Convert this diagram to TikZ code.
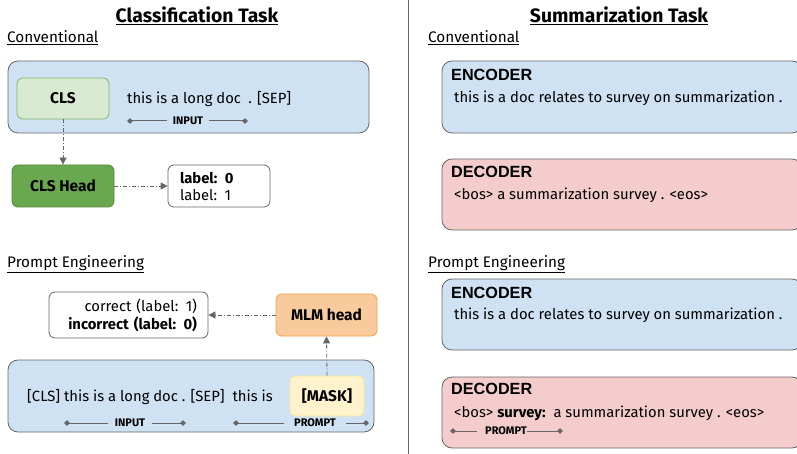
\documentclass[tikz,border=0pt]{standalone}
\usepackage{fontspec}
\setmainfont{Fira Sans}[Numbers=Proportional]
\newfontfamily\arialf{Liberation Sans}
\usetikzlibrary{arrows.meta}
\definecolor{blueF}{HTML}{CFE2F3}
\definecolor{pinkF}{HTML}{F4CCCC}
\definecolor{greenL}{HTML}{D9EAD3}
\definecolor{greenLB}{HTML}{82B366}
\definecolor{greenD}{HTML}{6AA84F}
\definecolor{greenDB}{HTML}{4E8A36}
\definecolor{orangeF}{HTML}{F9CB9C}
\definecolor{orangeB}{HTML}{F0A04B}
\definecolor{yellowF}{HTML}{FFF2CC}
\definecolor{yellowB}{HTML}{FFE599}
\definecolor{edge}{HTML}{666666}
\begin{document}
\begin{tikzpicture}[x=1pt,y=-1pt,
  panel/.style={draw=edge, line width=0.8pt, rounded corners=10pt, inner sep=0pt},
  smallbox/.style={draw, line width=0.8pt, rounded corners=6pt, inner sep=0pt, font=\fontsize{15.5}{17}\selectfont\bfseries},
  conn/.style={draw=edge, line width=0.8pt, dash pattern=on 4pt off 2pt on 1pt off 2pt, -{Triangle[length=7pt,width=7pt]}},
  brk/.style={draw=edge, line width=1pt},
  tip/.style={{Diamond[length=6pt,width=5.5pt]}-},
  tag/.style={font=\fontsize{11}{12}\selectfont\bfseries, inner sep=0pt, fill=none},
  body/.style={font=\fontsize{14.8}{17}\selectfont, inner sep=0pt},
  head/.style={font=\fontsize{19.4}{21}\selectfont\bfseries, inner sep=0pt},
  sub/.style={font=\fontsize{15.3}{17}\selectfont, inner sep=0pt, anchor=west},
  enc/.style={font=\arialf\fontsize{16.2}{18}\selectfont\bfseries, inner sep=0pt, anchor=west}]
\useasboundingbox (0,0) rectangle (797,454);
% divider
\draw[edge, line width=0.8pt] (408,0) -- (408,454);
% ===== Classification =====
\node[head] (t1) at (197,16) {\underline{Classification Task}};
\node[sub] (c1) at (7,38) {\underline{Conventional}};
\node[panel, fill=blueF, minimum width=361, minimum height=72] (p1) at (188.5,97) {};
\node[smallbox, draw=greenLB, fill=greenL, minimum width=92, minimum height=41] (cls) at (63,98.5) {CLS};
\node[body, anchor=west] (doc1) at (127,99) {this is a long doc\enspace. [SEP]};
\node[tag] (in1) at (188,121) {INPUT};
\coordinate (in1a) at (127,121);
\coordinate (in1b) at (248,121);
\draw[brk, tip] (in1a) -- ([xshift=-6pt]in1.west);
\draw[brk, tip] (in1b) -- ([xshift=6pt]in1.east);
\node[smallbox, draw=greenDB, fill=greenD, minimum width=102, minimum height=42] (clshead) at (63,186) {CLS Head};
\node[draw=edge, line width=0.8pt, rounded corners=6pt, fill=white, minimum width=102, minimum height=42, inner sep=0pt] (lab) at (219,186) {};
\node[body, align=left, text width=80, font=\fontsize{14.8}{17}\selectfont] (labt) at (220,186) {\textbf{label: 0}\\label: 1};
\draw[conn] (cls.south) -- (clshead.north);
\draw[conn] (clshead.east) -- (lab.west);
% prompt engineering
\node[sub] (pe1) at (7,264) {\underline{Prompt Engineering}};
\node[draw=edge, line width=0.8pt, rounded corners=6pt, fill=white, minimum width=159, minimum height=46, inner sep=0pt] (out) at (128.5,315) {};
\node[body, align=right, text width=150, font=\fontsize{14.8}{18}\selectfont] (outt) at (122,315) {correct (label: 1)\\\textbf{incorrect (label: 0)}};
\node[smallbox, draw=orangeB, fill=orangeF, minimum width=101, minimum height=42] (mlm) at (326.5,315) {MLM head};
\node[panel, fill=blueF, minimum width=366, minimum height=72] (p2) at (191,396) {};
\node[smallbox, draw=yellowB, fill=yellowF, minimum width=74, minimum height=40] (mask) at (327,396) {[MASK]};
\node[body, anchor=west] (doc2) at (27,397) {[CLS] this is a long doc . [SEP]\ \ this is};
\draw[conn] (mlm.west) -- (out.east);
\draw[conn] (mask.north) -- (mlm.south);
\node[tag] (in2) at (130,423) {INPUT};
\coordinate (in2a) at (64,423);
\coordinate (in2b) at (186,423);
\draw[brk, tip] (in2a) -- ([xshift=-7pt]in2.west);
\draw[brk, tip] (in2b) -- ([xshift=7pt]in2.east);
\node[tag] (pr1) at (315,423) {PROMPT};
\coordinate (pr1a) at (233,423);
\coordinate (pr1b) at (369,423);
\draw[brk, tip] (pr1a) -- ([xshift=-10pt]pr1.west);
\draw[brk, tip] (pr1b) -- ([xshift=10pt]pr1.east);
% ===== Summarization =====
\node[head] (t2) at (619,16) {\underline{Summarization Task}};
\node[sub] (c2) at (428,38) {\underline{Conventional}};
\node[panel, fill=blueF, minimum width=360, minimum height=72] (e1) at (622,97) {};
\node[enc] (e1h) at (451,75) {ENCODER};
\node[body, anchor=west] (e1t) at (454,98) {this is a doc relates to survey on summarization .};
\node[panel, fill=pinkF, minimum width=360, minimum height=71] (d1) at (622,194.5) {};
\node[enc] (d1h) at (451,172) {DECODER};
\node[body, anchor=west] (d1t) at (454,195) {<bos> a summarization survey . <eos>};
\node[sub] (pe2) at (428,264) {\underline{Prompt Engineering}};
\node[panel, fill=blueF, minimum width=360, minimum height=71] (e2) at (622,314.5) {};
\node[enc] (e2h) at (451,293) {ENCODER};
\node[body, anchor=west] (e2t) at (454,315) {this is a doc relates to survey on summarization .};
\node[panel, fill=pinkF, minimum width=360, minimum height=71] (d2) at (622,412.5) {};
\node[enc] (d2h) at (451,389) {DECODER};
\node[body, anchor=west] (d2t) at (454,413) {<bos> \textbf{survey:}\ \ a summarization survey . <eos>};
\node[tag] (pr2) at (506,431) {PROMPT};
\coordinate (pr2a) at (450,431);
\coordinate (pr2b) at (563,431);
\draw[brk, tip] (pr2a) -- ([xshift=-8pt]pr2.west);
\draw[brk, tip] (pr2b) -- (pr2.east);
\end{tikzpicture}
\end{document}
